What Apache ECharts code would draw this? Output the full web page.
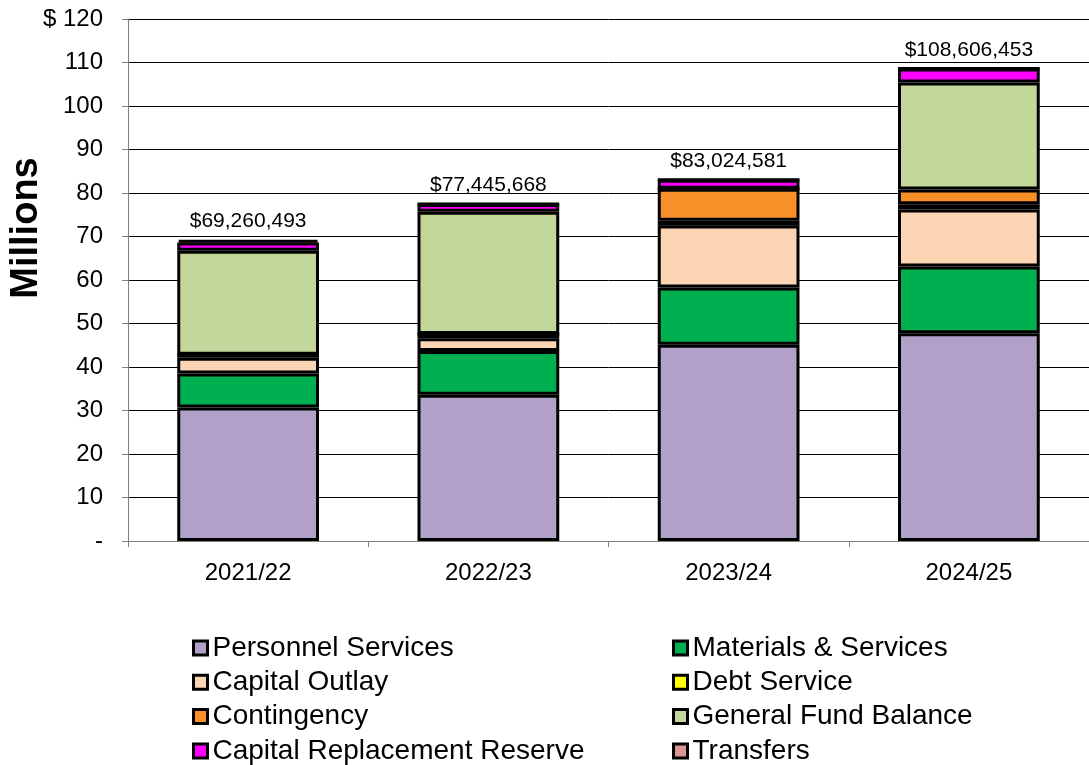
<!DOCTYPE html>
<html>
<head>
<meta charset="utf-8">
<title>Budget by Category</title>
<script src="https://cdn.jsdelivr.net/npm/echarts@6/dist/echarts.min.js"></script>
<style>
  html, body { margin: 0; padding: 0; background: #fff; }
  #main { width: 1089px; height: 765px; }
</style>
</head>
<body>
<div id="main"></div>
<script>
const years = ["2021/22", "2022/23", "2023/24", "2024/25"];

// values in millions
const personnel = [30.7, 33.6, 45.1, 47.75];
const materials = [7.8, 10.1, 13.2, 15.35];
const capitalOutlay = [3.6, 2.9, 14.2, 13.1];
const debtService = [0.7, 1.0, 1.1, 1.2];
const contingency = [0, 0, 7.4, 3.4];
const fundBalance = [23.9, 28.1, 0, 24.6];
const replacementReserve = [1.9, 1.75, 2.02, 3.2];
const transfers = [0.66, 0, 0, 0];

const totals = [69260493, 77445668, 83024581, 108606453];

const font = "Arial, 'Liberation Sans', sans-serif";
const fmt = new Intl.NumberFormat("en-US");

const chart = echarts.init(document.getElementById("main"));

function stackBar(name, data, color) {
    return {
        name: name,
        type: "bar",
        stack: "total",
        barWidth: "59%",
        data: data,
        itemStyle: {
            color: color,
            borderColor: "#000",
            borderWidth: 3
        }
    };
}

const legendBase = {
    orient: "vertical",
    icon: "rect",
    itemWidth: 14,
    itemHeight: 14,
    itemGap: 6.3,
    height: 200,
    selectedMode: false,
    itemStyle: {
        borderColor: "#000",
        borderWidth: 3
    },
    textStyle: {
        fontFamily: font,
        fontSize: 28,
        lineHeight: 28,
        color: "#000"
    }
};

option = {
    animation: false,
    grid: {
        left: 128,
        right: -10,
        top: 19,
        bottom: 224
    },
    graphic: [
        {
            type: "text",
            x: 27,
            y: 228,
            rotation: Math.PI / 2,
            style: {
                text: "Millions",
                font: "bold 38px " + font,
                fill: "#000",
                align: "center",
                verticalAlign: "middle"
            }
        }
    ],
    legend: [
        Object.assign({}, legendBase, {
            left: 187,
            top: 629,
            data: ["Personnel Services", "Capital Outlay", "Contingency", "Capital Replacement Reserve"]
        }),
        Object.assign({}, legendBase, {
            left: 667,
            top: 629,
            data: ["Materials & Services", "Debt Service", "General Fund Balance", "Transfers"]
        })
    ],
    xAxis: {
        type: "category",
        data: years,
        axisLine: { lineStyle: { color: "#808080", width: 1 } },
        axisTick: { show: true, length: 6, alignWithLabel: false, lineStyle: { color: "#808080" } },
        axisLabel: {
            fontFamily: font,
            fontSize: 24,
            color: "#000",
            margin: 20
        }
    },
    yAxis: {
        type: "value",
        min: 0,
        max: 120,
        interval: 10,
        axisLine: { show: true, lineStyle: { color: "#808080", width: 1 } },
        axisTick: { show: true, length: 6, lineStyle: { color: "#808080" } },
        splitLine: { lineStyle: { color: "#000", width: 1 } },
        axisLabel: {
            fontFamily: font,
            fontSize: 24,
            color: "#000",
            margin: 25,
            formatter: (v) => {
                if (v === 0) return "-";
                if (v === 120) return "$ 120";
                return v;
            }
        }
    },
    series: [
        stackBar("Personnel Services", personnel, "#b1a0c7"),
        stackBar("Materials & Services", materials, "#00b050"),
        stackBar("Capital Outlay", capitalOutlay, "#fcd5b4"),
        stackBar("Debt Service", debtService, "#ffff00"),
        stackBar("Contingency", contingency, "#f79029"),
        stackBar("General Fund Balance", fundBalance, "#c4d79b"),
        stackBar("Capital Replacement Reserve", replacementReserve, "#ff00ff"),
        stackBar("Transfers", transfers, "#d99694"),
        {
            name: "Total",
            type: "scatter",
            symbolSize: 0,
            itemStyle: { color: "#000" },
            data: totals.map((t) => t / 1e6),
            label: {
                show: true,
                position: "top",
                distance: 8,
                fontFamily: font,
                fontSize: 21,
                color: "#000",
                opacity: 1,
                textBorderWidth: 0
            },
            labelLayout: { hideOverlap: false },
            emphasis: { disabled: true },
            z: 10
        }
    ]
};

option.series[8].label.formatter = (p) => "$" + fmt.format(totals[p.dataIndex]);

chart.setOption(option);
</script>
</body>
</html>
